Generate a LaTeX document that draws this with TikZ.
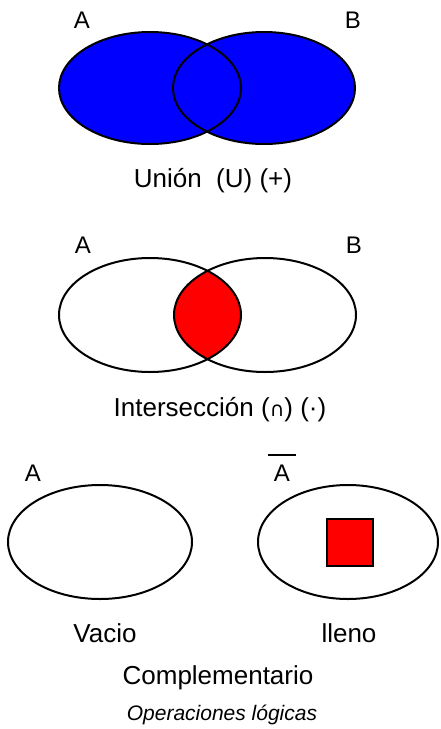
\documentclass[tikz,border=0pt]{standalone}
\usepackage{fontspec}
\setmainfont{Liberation Sans}
\newfontfamily\symfont{DejaVu Sans}
\definecolor{setblue}{RGB}{0,0,255}
\definecolor{setred}{RGB}{255,0,0}
\begin{document}
\begin{tikzpicture}[x=1pt,y=-1pt,
  setline/.style={line width=2pt,draw=black},
  lbl/.style={inner sep=0pt,font=\fontsize{24}{26}\selectfont},
  caption/.style={inner sep=0pt,font=\fontsize{26}{30}\selectfont},
  note/.style={inner sep=0pt,font=\fontsize{21}{24}\selectfont\itshape}]
\useasboundingbox (0,0) rectangle (440,729);
% Union
\fill[setblue] (150,88) ellipse [x radius=91,y radius=56];
\fill[setblue] (264,88) ellipse [x radius=91,y radius=56];
\draw[setline] (150,88) ellipse [x radius=91,y radius=56];
\draw[setline] (264,88) ellipse [x radius=91,y radius=56];
\node[lbl] (ua) at (82,20) {A};
\node[lbl] (ub) at (353,20) {B};
\node[caption] (union) at (213,181) {Unión\ \ (U) (+)};
% Intersection
\begin{scope}
\clip (150,315) ellipse [x radius=91,y radius=57];
\fill[setred] (265,315) ellipse [x radius=91,y radius=57];
\end{scope}
\draw[setline] (150,315) ellipse [x radius=91,y radius=57];
\draw[setline] (265,315) ellipse [x radius=91,y radius=57];
\node[lbl] (ia) at (83,245) {A};
\node[lbl] (ib) at (354,245) {B};
\node[caption] (inter) at (220,410) {Intersección ({\symfont\fontsize{20}{22}\selectfont ∩}) (·)};
% Complement
\draw[setline] (100,542) ellipse [x radius=92,y radius=57];
\draw[setline] (348,542) ellipse [x radius=90,y radius=57];
\fill[setred,draw=black,line width=1.5pt] (327,519) rectangle (373,566);
\node[lbl] (ca) at (33,473) {A};
\node[lbl] (cna) at (282,473) {A};
\draw[line width=1.5pt] (268,455) -- (296,455);
\node[caption] (vacio) at (105,633) {Vacio};
\node[caption] (lleno) at (349,633) {lleno};
\node[caption] (comp) at (218,678) {Complementario};
\node[note] (ops) at (222,715) {Operaciones lógicas};
\end{tikzpicture}
\end{document}
